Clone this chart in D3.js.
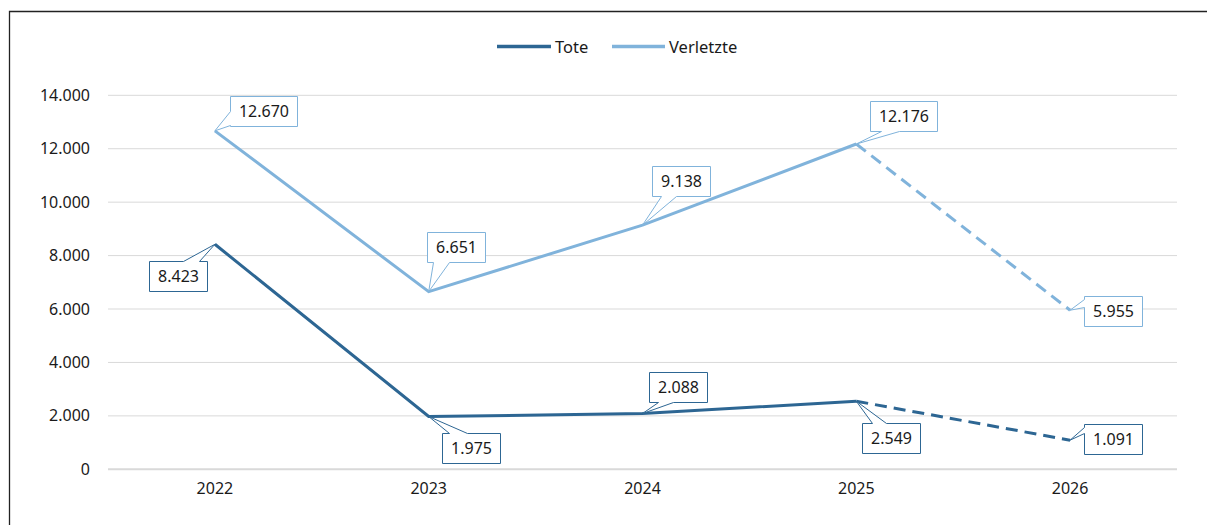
<!DOCTYPE html>
<html>
<head>
<meta charset="utf-8">
<script src="https://cdn.jsdelivr.net/npm/d3@7"></script>
<style>
  html, body { margin: 0; padding: 0; background: #fff; }
  svg { display: block; font-family: "Noto Sans", "Open Sans", sans-serif; }
</style>
</head>
<body>
<svg id="chart" width="1207" height="525"></svg>
<script>
// ---- data ----
const years = ["2022", "2023", "2024", "2025", "2026"];
const tote = [8423, 1975, 2088, 2549, 1091];
const verletzte = [12670, 6651, 9138, 12176, 5955];
const yTicks = [0, 2000, 4000, 6000, 8000, 10000, 12000, 14000];
const seriesNames = ["Tote", "Verletzte"];
const forecastFrom = 3; // index from which the line is dashed (2025 -> 2026)

// ---- layout / style config ----
const colors = { Tote: "#2d6693", Verletzte: "#80b3db" };
// callout placement: box offset from point, callout side, wedge base along side
const calloutCfg = {
  Verletzte: [
    { dx: 15, dy: -35, side: "left", b: [15, 29] },
    { dx: -2, dy: -60, side: "bottom", b: [6, 22] },
    { dx: 9, dy: -59, side: "bottom", b: [9, 24] },
    { dx: 14, dy: -43, side: "bottom", b: [11, 29] },
    { dx: 14, dy: -14, side: "left", b: [3, 11] }
  ],
  Tote: [
    { dx: -66, dy: 17, side: "top", b: [34, 50] },
    { dx: 13, dy: 16, side: "top", b: [7, 25] },
    { dx: 6, dy: -42, side: "bottom", b: [9, 24] },
    { dx: 6, dy: 22, side: "top", b: [10, 24] },
    { dx: 14, dy: -16, side: "left", b: [3, 9] }
  ]
};

const svg = d3.select("#chart");
const fmt = v => d3.format(",")(v).replace(/,/g, ".");

const x = d3.scaleBand().domain(years).range([108, 1177]);
const y = d3.scaleLinear().domain([0, 14000]).range([469.3, 95.3]);
const cx = d => x(d) + x.bandwidth() / 2;

// frame (partially visible border)
svg.append("path")
  .attr("d", "M9.5,525 V11.5 H1207")
  .attr("fill", "none").attr("stroke", "#222").attr("stroke-width", 1.3);

// gridlines
const yAxis = d3.axisLeft(y).tickValues(yTicks).tickSize(0).tickPadding(0).tickFormat(fmt);
svg.append("g").selectAll("line").data(yTicks).join("line")
  .attr("x1", 108).attr("x2", 1177)
  .attr("y1", d => y(d)).attr("y2", d => y(d))
  .attr("stroke", "#d9d9d9")
  .attr("stroke-width", d => d === 0 ? 2 : 1);

const gy = svg.append("g").attr("transform", "translate(90,0)").call(yAxis);
gy.select(".domain").remove();
gy.selectAll("text").attr("font-size", 16).attr("fill", "#1a1a1a")
  .attr("font-family", "'Noto Sans', sans-serif");

const xAxis = d3.axisBottom(x).tickSize(0).tickPadding(0);
const gx = svg.append("g").attr("transform", "translate(0,483)").call(xAxis);
gx.select(".domain").remove();
gx.selectAll("text").attr("font-size", 16).attr("fill", "#1a1a1a")
  .attr("font-family", "'Noto Sans', sans-serif");

// lines
const seriesData = { Tote: tote, Verletzte: verletzte };
const line = d3.line().x(d => cx(d.year)).y(d => y(d.v));
seriesNames.forEach(name => {
  const pts = years.map((yr, i) => ({ year: yr, v: seriesData[name][i] }));
  svg.append("path").attr("d", line(pts.slice(0, forecastFrom + 1)))
    .attr("fill", "none").attr("stroke", colors[name]).attr("stroke-width", 3)
    .attr("stroke-linejoin", "miter");
  svg.append("path").attr("d", line(pts.slice(forecastFrom)))
    .attr("fill", "none").attr("stroke", colors[name]).attr("stroke-width", 3)
    .attr("stroke-dasharray", "12,7");
});

// callouts
function calloutPath(bx, by, w, h, side, b, tx, ty) {
  const p = [];
  if (side === "top") {
    p.push([bx, by], [bx + b[0], by], [tx, ty], [bx + b[1], by], [bx + w, by], [bx + w, by + h], [bx, by + h]);
  } else if (side === "bottom") {
    p.push([bx, by], [bx + w, by], [bx + w, by + h], [bx + b[1], by + h], [tx, ty], [bx + b[0], by + h], [bx, by + h]);
  } else if (side === "left") {
    p.push([bx, by], [bx + w, by], [bx + w, by + h], [bx, by + h], [bx, by + b[1]], [tx, ty], [bx, by + b[0]]);
  }
  return "M" + p.map(q => q.join(",")).join("L") + "Z";
}

seriesNames.forEach(name => {
  seriesData[name].forEach((v, i) => {
    const cfg = calloutCfg[name][i];
    const px = cx(years[i]), py = y(v);
    const g = svg.append("g");
    const path = g.append("path");
    const t = g.append("text").text(fmt(v))
      .attr("font-size", 16).attr("fill", "#1a1a1a");
    const tw = t.node().getComputedTextLength();
    const w = Math.round(tw + 17), h = 30;
    const bx = Math.round(px + cfg.dx) + 0.5, by = Math.round(py + cfg.dy) + 0.5;
    path.attr("d", calloutPath(bx, by, w, h, cfg.side, cfg.b, px, py))
      .attr("fill", "#fff").attr("stroke", colors[name]).attr("stroke-width", 1);
    t.attr("x", bx + w / 2).attr("y", by + h / 2).attr("text-anchor", "middle")
      .attr("dy", "0.36em");
  });
});

// legend
const legend = [
  { name: "Tote", x1: 497, x2: 551, tx: 555 },
  { name: "Verletzte", x1: 612, x2: 665, tx: 669 }
];
const lg = svg.append("g");
legend.forEach(l => {
  lg.append("line").attr("x1", l.x1).attr("x2", l.x2).attr("y1", 46.5).attr("y2", 46.5)
    .attr("stroke", colors[l.name]).attr("stroke-width", 3.3);
  lg.append("text").attr("x", l.tx).attr("y", 52.5).text(l.name)
    .attr("font-size", 16.5).attr("fill", "#1a1a1a");
});
</script>
</body>
</html>
